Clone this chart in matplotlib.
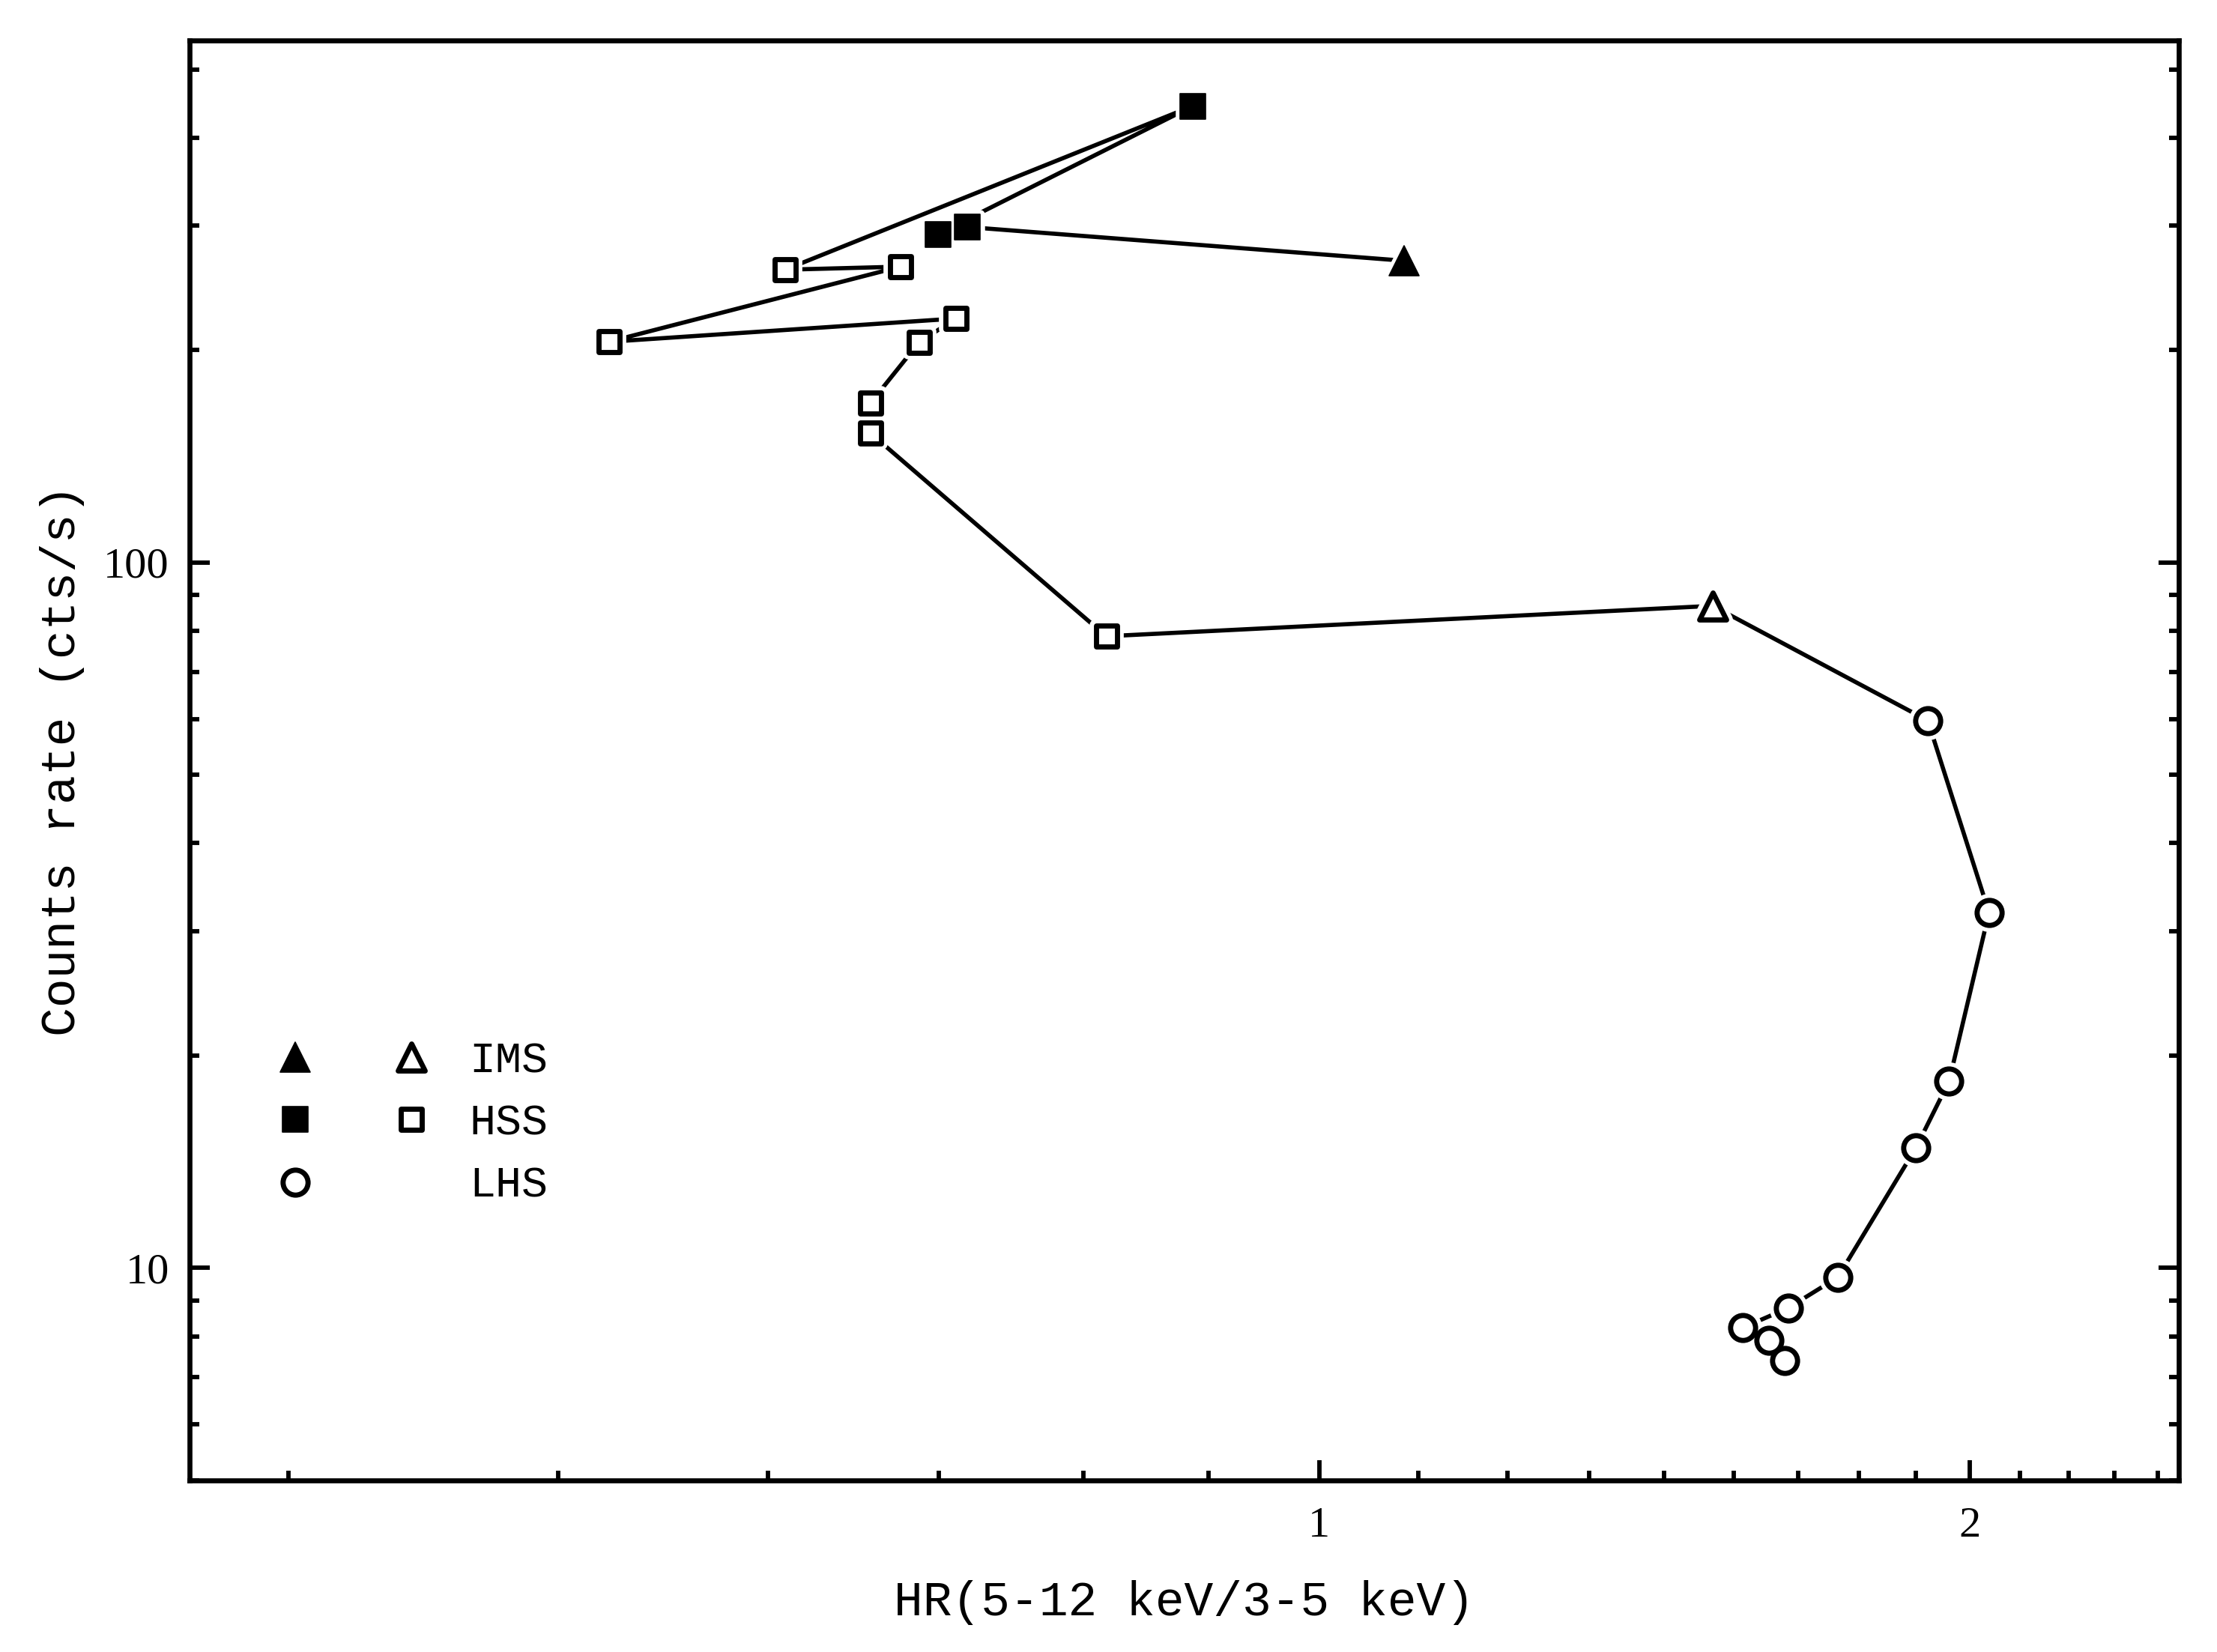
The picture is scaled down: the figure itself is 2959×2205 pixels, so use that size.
import matplotlib
matplotlib.use('Agg')
import matplotlib.pyplot as plt
from matplotlib.markers import MarkerStyle
from matplotlib.legend_handler import HandlerTuple
from matplotlib.font_manager import FontProperties
from matplotlib.ticker import FixedLocator, LogLocator, NullFormatter, FuncFormatter

# hardness ratio and count rate, in time order
lhs_hr = [1.643, 1.615, 1.571, 1.649, 1.738, 1.889, 1.957, 2.042, 1.913]
lhs_rate = [7.39, 7.89, 8.23, 8.78, 9.70, 14.8, 18.4, 31.9, 59.7]

ims_rise_hr = [1.521]
ims_rise_rate = [86.8]

hss_open_hr = [0.797, 0.620, 0.620, 0.653, 0.679, 0.469, 0.640, 0.566]
hss_open_rate = [78.6, 152.4, 168.4, 205.3, 221.7, 205.5, 262.6, 260.0]

hss_fill_hr = [0.874, 0.666, 0.687]
hss_fill_rate = [443.6, 292.0, 298.9]

ims_fill_hr = [1.095]
ims_fill_rate = [267.7]

state_labels = ['IMS', 'HSS', 'LHS']

track_hr = lhs_hr + ims_rise_hr + hss_open_hr + hss_fill_hr + ims_fill_hr
track_rate = lhs_rate + ims_rise_rate + hss_open_rate + hss_fill_rate + ims_fill_rate

label_font = FontProperties(family='Liberation Mono', size=15.5)
legend_font = FontProperties(family='Liberation Mono', size=14)

plt.rcParams['font.family'] = 'Liberation Serif'

fig = plt.figure(figsize=(2959 / 300, 2205 / 300), dpi=300)
ax = fig.add_axes([0.0855, 0.1039, 0.8973, 0.8718])
ax.set_xscale('log')
ax.set_yscale('log')
ax.set_xlim(0.3, 2.5)
ax.set_ylim(5, 550)

ax.plot(track_hr, track_rate, color='black', lw=1.35, zorder=2)

# (x, y, marker, size, face, edge width)
groups = [
    (lhs_hr, lhs_rate, 'o', 8.0, 'none', 1.65),
    (ims_rise_hr, ims_rise_rate, '^', 8.6, 'none', 1.65),
    (hss_open_hr, hss_open_rate, 's', 6.9, 'none', 1.65),
    (hss_fill_hr, hss_fill_rate, 's', 8.3, 'black', 0.4),
    (ims_fill_hr, ims_fill_rate, '^', 9.7, 'black', 0.4),
]
gap = 1.3

# white halo under each symbol leaves a small gap in the line
for x, y, m, ms, fc, mew in groups:
    ax.plot(x, y, ls='none', marker=MarkerStyle(m, joinstyle='round'), ms=ms,
            mfc='white', mec='white', mew=mew + 2 * gap, zorder=3)

handles = []
for x, y, m, ms, fc, mew in groups:
    h, = ax.plot(x, y, ls='none', marker=MarkerStyle(m, joinstyle='round'), ms=ms,
                 mfc=fc, mec='black', mew=mew, zorder=4)
    handles.append(h)
h_lhs, h_ims_open, h_hss_open, h_hss_fill, h_ims_fill = handles

ax.legend([(h_ims_fill, h_ims_open), (h_hss_fill, h_hss_open), (h_lhs,)], state_labels,
          handler_map={tuple: HandlerTuple(ndivide=2, pad=0)},
          loc='upper left', bbox_to_anchor=(0.024, 0.305), frameon=False,
          handlelength=5.3, handletextpad=0.0, labelspacing=0.5,
          borderpad=0, borderaxespad=0, numpoints=1, prop=legend_font)

# ticks
ax.xaxis.set_major_locator(FixedLocator([1, 2]))
ax.xaxis.set_minor_locator(FixedLocator([k / 9 for k in range(3, 23) if k not in (9, 18)]))
ax.xaxis.set_major_formatter(FuncFormatter(lambda v, p: f'{v:g}'))
ax.xaxis.set_minor_formatter(NullFormatter())
ax.yaxis.set_major_locator(LogLocator(base=10))
ax.yaxis.set_minor_locator(LogLocator(base=10, subs=range(2, 10)))
ax.yaxis.set_major_formatter(FuncFormatter(lambda v, p: f'{v:g}'))
ax.yaxis.set_minor_formatter(NullFormatter())

ax.tick_params(which='both', direction='in', top=False, right=True, width=1.4, labelsize=14)
ax.tick_params(which='major', length=6.5)
ax.tick_params(which='minor', length=3.1)
ax.tick_params(axis='x', pad=8.5)
ax.tick_params(axis='y', pad=6.5)
for s in ax.spines.values():
    s.set_linewidth(1.6)

ax.set_xlabel('HR(5-12 keV/3-5 keV)', fontproperties=label_font, labelpad=11)
ax.set_ylabel('Counts rate (cts/s)', fontproperties=label_font, labelpad=6)

fig.savefig('out.png', dpi=300)
